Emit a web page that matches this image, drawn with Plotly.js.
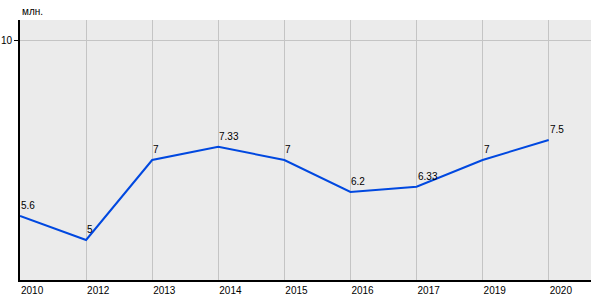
<!DOCTYPE html>
<html><head><meta charset="utf-8">
<script src="https://cdn.plot.ly/plotly-3.0.1.min.js"></script>
<style>body{margin:0}#c{width:600px;height:300px}</style>
</head><body><div id="c"></div>
<script>
const years = ["2010","2012","2013","2014","2015","2016","2017","2019","2020"];
const values = [5.6, 5, 7, 7.33, 7, 6.2, 6.33, 7, 7.5];
const valueLabels = ["5.6","5","7","7.33","7","6.2","6.33","7","7.5"];
const unitLabel = "млн.";

const font = "Liberation Sans, Arial, sans-serif";
const labelAnns = years.map((yr, i) => ({
  x: i, y: values[i], xref: "x", yref: "y", text: valueLabels[i],
  xanchor: "left", yanchor: "bottom", showarrow: false, xshift: -1, yshift: 3,
  font: {family: font, size: 10, color: "#000"}
}));
Plotly.newPlot("c", [{
  x: years, y: values, type: "scatter", mode: "lines",
  line: {color: "#0048e0", width: 2},
  hoverinfo: "none"
}], {
  width: 600, height: 300,
  margin: {l: 20, r: 9, t: 20, b: 20},
  paper_bgcolor: "#fff", plot_bgcolor: "#ebebeb",
  showlegend: false,
  font: {family: font, size: 10, color: "#000"},
  xaxis: {type: "category", range: [0, 8.64], showgrid: true, gridcolor: "#c4c4c4", gridwidth: 1,
    showline: true, linecolor: "#000", linewidth: 2, ticks: "", zeroline: false,
    ticklabelposition: "outside right", tickfont: {family: font, size: 10, color: "#000"}},
  yaxis: {range: [4, 10.5], tickvals: [10], ticktext: ["10"], showgrid: true, gridcolor: "#c4c4c4",
    showline: true, linecolor: "#000", linewidth: 2, ticks: "outside", ticklen: 4, tickcolor: "#000",
    zeroline: false, tickfont: {family: font, size: 10, color: "#000"}},
  annotations: labelAnns.concat([{text: unitLabel, xref: "paper", yref: "paper", x: 0, y: 1, xanchor: "left", yanchor: "bottom",
    showarrow: false, yshift: 1, font: {family: font, size: 10, color: "#000"}}])
}, {staticPlot: true});
</script></body></html>
